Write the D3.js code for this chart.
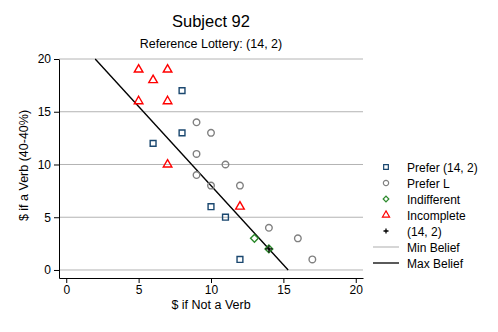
<!DOCTYPE html>
<html>
<head>
<meta charset="utf-8">
<script src="https://cdn.jsdelivr.net/npm/d3@7"></script>
<style>
  body { margin: 0; background: #fff; }
  svg { font-family: "Liberation Sans", Arial, Helvetica, sans-serif; }
</style>
</head>
<body>
<svg id="chart" width="498" height="332"></svg>
<script>
// Datos
const preferRefX = [8, 8, 6, 10, 11, 12]
const preferRefY = [17, 13, 12, 6, 5, 1]
const preferLX = [9, 10, 9, 11, 9, 10, 12, 14, 16, 17]
const preferLY = [14, 13, 11, 10, 9, 8, 8, 4, 3, 1]
const indiffX = [13, 14]
const indiffY = [3, 2]
const incompX = [5, 7, 6, 5, 7, 7, 12]
const incompY = [19, 19, 18, 16, 16, 10, 6]
const refPoint = [14, 2]
const minBeliefX = [2, 15.33]
const minBeliefY = [20, 0]
const maxBeliefX = [2, 15.33]
const maxBeliefY = [20, 0]
const xTicks = [0, 5, 10, 15, 20]
const yTicks = [0, 5, 10, 15, 20]
const gridVals = [0, 5, 10, 15, 20]

const svg = d3.select('#chart')
const plotLeft = 59, plotRight = 363, plotTop = 59, plotBottom = 278

const x = d3.scaleLinear().domain([-0.5, 20.5]).range([plotLeft, plotRight])
const y = d3.scaleLinear().domain([-0.76, 20]).range([plotBottom, plotTop])

const zip = (a, b) => a.map((v, i) => [v, b[i]])

// Titulos
svg.append('text').attr('x', 211).attr('y', 27).attr('text-anchor', 'middle')
  .attr('font-size', 16.5).attr('fill', '#000').text('Subject 92')
svg.append('text').attr('x', 211).attr('y', 48).attr('text-anchor', 'middle')
  .attr('font-size', 12.5).attr('fill', '#000').text('Reference Lottery: (14, 2)')

// Rejilla
svg.append('g').selectAll('line').data(gridVals).enter().append('line')
  .attr('x1', plotLeft).attr('x2', plotRight)
  .attr('y1', d => y(d)).attr('y2', d => y(d))
  .attr('stroke', '#b4b4b4').attr('stroke-width', 1)

// Ejes
const yAxis = svg.append('g').attr('transform', `translate(${plotLeft},0)`)
  .call(d3.axisLeft(y).tickValues(yTicks).tickSize(5).tickPadding(3).tickSizeOuter(0))
const xAxis = svg.append('g').attr('transform', `translate(0,${plotBottom})`)
  .call(d3.axisBottom(x).tickValues(xTicks).tickSize(5).tickPadding(2).tickSizeOuter(0))
;[xAxis, yAxis].forEach(a => {
  a.select('.domain').attr('stroke', '#000')
  a.selectAll('.tick line').attr('stroke', '#000')
  a.selectAll('.tick text').attr('font-size', 12).attr('fill', '#000')
    .attr('font-family', '"Liberation Sans", Arial, sans-serif')
})

svg.append('text').attr('transform', `translate(28,${(plotTop + plotBottom) / 2 - 3}) rotate(-90)`)
  .attr('text-anchor', 'middle').attr('font-size', 12.5).text('$ if a Verb (40-40%)')
svg.append('text').attr('x', 211).attr('y', 309).attr('text-anchor', 'middle')
  .attr('font-size', 12.5).text('$ if Not a Verb')

// Lineas de creencia
const line = d3.line().x(d => x(d[0])).y(d => y(d[1]))
svg.append('path').datum(zip(minBeliefX, minBeliefY)).attr('d', line)
  .attr('fill', 'none').attr('stroke', '#c0c0c0').attr('stroke-width', 1.2)
svg.append('path').datum(zip(maxBeliefX, maxBeliefY)).attr('d', line)
  .attr('fill', 'none').attr('stroke', '#000').attr('stroke-width', 1.2)

// Simbolos
const navy = '#1a476f', gray = '#808080', green = '#2c8a2c', red = '#ff0000'
const sym = {
  square: d3.symbol().type(d3.symbolSquare).size(34),
  circle: d3.symbol().type(d3.symbolCircle).size(34),
  diamond: d3.symbol().type(d3.symbolSquare).size(30),
  triangle: d3.symbol().type(d3.symbolTriangle).size(32)
}

function drawMarks(data, kind, color) {
  svg.append('g').selectAll('path').data(data).enter().append('path')
    .attr('d', sym[kind]())
    .attr('transform', d => `translate(${x(d[0])},${y(d[1])})` + (kind === 'diamond' ? ' rotate(45)' : ''))
    .attr('fill', 'none').attr('stroke', color).attr('stroke-width', 1.4)
}
drawMarks(zip(preferRefX, preferRefY), 'square', navy)
drawMarks(zip(preferLX, preferLY), 'circle', gray)
drawMarks(zip(indiffX, indiffY), 'diamond', green)
drawMarks(zip(incompX, incompY), 'triangle', red)

function plus(g, cx, cy, r) {
  g.append('path').attr('d', `M${cx - r},${cy}H${cx + r}M${cx},${cy - r}V${cy + r}`)
    .attr('stroke', '#000').attr('stroke-width', 1.3)
}
plus(svg, x(refPoint[0]), y(refPoint[1]), 3.5)

// Leyenda
const legendItems = [
  { label: 'Prefer (14, 2)', kind: 'square', color: navy },
  { label: 'Prefer L', kind: 'circle', color: gray },
  { label: 'Indifferent', kind: 'diamond', color: green },
  { label: 'Incomplete', kind: 'triangle', color: red },
  { label: '(14, 2)', kind: 'plus', color: '#000' },
  { label: 'Min Belief', kind: 'line', color: '#c0c0c0' },
  { label: 'Max Belief', kind: 'line', color: '#000' }
]
const lg = svg.append('g')
legendItems.forEach((it, i) => {
  const cy = 167 + i * 16
  if (it.kind === 'line') {
    lg.append('line').attr('x1', 373).attr('x2', 399).attr('y1', cy).attr('y2', cy)
      .attr('stroke', it.color).attr('stroke-width', 1.3)
  } else if (it.kind === 'plus') {
    plus(lg, 386, cy, 2.5)
  } else {
    lg.append('path').attr('d', d3.symbol().type(
        it.kind === 'circle' ? d3.symbolCircle : it.kind === 'triangle' ? d3.symbolTriangle : d3.symbolSquare
      ).size(it.kind === 'diamond' ? 16 : 22)())
      .attr('transform', `translate(386,${cy})` + (it.kind === 'diamond' ? ' rotate(45)' : ''))
      .attr('fill', 'none').attr('stroke', it.color).attr('stroke-width', 1.2)
  }
  lg.append('text').attr('x', 407).attr('y', cy + 4.5).attr('font-size', 12).text(it.label)
})
</script>
</body>
</html>
